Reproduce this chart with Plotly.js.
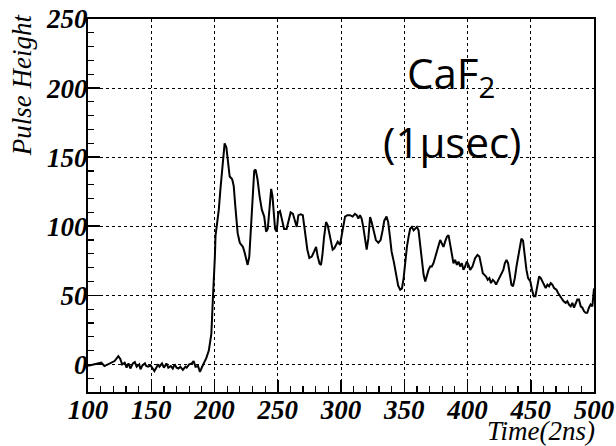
<!DOCTYPE html>
<html>
<head>
<meta charset="utf-8">
<script src="https://cdn.plot.ly/plotly-3.0.1.min.js"></script>
<style>html,body{margin:0;padding:0;background:#fff;}</style>
</head>
<body>
<div id="chart" style="width:616px;height:446px;"></div>
<script>
// Time (2ns units)
var time = [
100,103,105.5,108,110.5,113,116,118.5,121,124,125.5,127,129,130.5,132,133.5,135.5,137,138.5,140.5,
141.5,143,145,146,147.5,149.5,151,152.5,154,155.5,156.5,158.5,160,162,163.5,165.5,167,168.5,170,171.5,
173,175,177,178,180,182,183.5,185,187,188.5,190.5,192,193.5,195.5,197.5,
198.7,199.5,200.3,200.8,202,203.4,204.7,206,207.3,208,209.4,210.7,212,214,215.2,216.5,218.3,220,222.5,223.8,
225.1,226.2,227.5,228.8,230.1,231.4,232.5,234,235.6,237.4,239.3,240.8,242.1,243.5,244.8,245.8,246.9,247.9,249.2,250.5,
251.8,253.1,255,257,258.6,260.2,262,263.7,265,266.3,268.2,269.8,271.1,272.4,273.4,275,276.9,278.7,280.3,281.6,
283,284.2,285.3,286.6,288.2,289.5,290.8,292.1,293.4,294.7,296,297.4,299.2,300.5,301.8,303.2,305,307.1,309.2,311,
312.4,313.7,315,316.3,317.6,319,320.3,321.6,323,324.2,326,327.6,329.5,331.3,332.9,334.2,336,337.3,338.7,340,
341.8,343.4,345.2,346.8,348.2,349.5,350.8,352.1,353.4,354.7,356,357.4,358.7,360,361.3,362.6,363.9,365.3,366.6,367.9,
369.2,370.5,371.8,373.1,374.5,375.8,377.1,378.4,379.7,381,382.3,383.7,385,386.3,387.6,388.9,390.2,391.6,392.9,394.2,
395.5,396.8,398.1,399.4,400.8,402.1,403.9,406,407.9,409.4,410.8,412.1,413.4,414.7,416,417.3,418.6,420,421.3,422.6,
424.4,425.7,427,428.3,429.5,430.8,432.1,433.4,434.7,436,437.4,438.7,440,441.3,442.6,443.9,445.3,446.6,447.9,449.7,
451,452.4,453.7,455,456.6,457.9,459.2,460.5,461.8,463.2,464.5,465.8,467.1,468.4,470.3,471.6,472.9,474.2,476,477.6,
478.9,480.2,481.6,482.9,484.2,485.5,486.8,488.1,489.5,490.8,492.1,493.4,494.7,496,497.3,498.7,499.7,500
];
// Pulse height values
var pulse = [
-1,-0.5,0,0.7,1.2,-1.2,0,1.2,2.4,6,4,0,1.2,-2.4,0.7,-3,0.7,1.7,-1.7,0,
-3.6,-0.7,0.7,-1.2,-1.7,-0.7,-3,-4.8,-2.4,0,-1.7,0.7,-2.4,0.7,-2.4,-1.2,-3,0,-2.4,-3,
-1.7,-4,-1.7,-2.4,0,0.7,2.4,-1.7,-1.2,-5.5,-1.2,1.2,4.5,10,22,
47,59,78,93,102,112,127,141,155,160,157,146,136,134,129,114,95,88,85,81,
75,72,78,98,122,140,141,134,122,112,107,96,98,114,127,122,107,98,96,110,
111,105,98,98,105,110,109,103,99.5,108,108.6,108,99.5,90,83,77,78,81.6,85,78,
73,72,79,92,103,100.7,94.7,87.6,83,84,86.4,88.8,86.4,92.3,100.7,107,108,108,107,109,
108,105.5,108,105.5,99.5,90,83,91,106.7,103,94.7,90,88,90,97,104,107,103,92.3,81.6,
74,66,57,54,55,62.4,75.6,85,92.3,98.3,99.5,97,98.3,99.5,97,87.6,75.6,64.8,60,64.8,
68.4,70.8,70.8,73.2,78,82.8,86.4,90,87.6,85,88.8,92.3,93.5,87.6,80.4,73.2,75.6,72,74.4,70.8,
73.2,68.4,70.8,74.4,72,68.4,70.8,76.8,79.2,78,72,66,64.8,63.6,61.2,62.4,58.8,61.2,60,57.7,
61.2,63.6,66,68.4,73.2,75.6,73.2,66,57.7,56.5,62.4,70.8,78,86.4,91,89.5,78,68.4,62.4,60,
54,49.3,49.3,56.5,63.6,62.4,60,56.5,55.3,57.7,56.5,58.8,57.7,55.3,54,51.7,49.3,48,45.7,44.5,
45.7,43.3,42,44.5,41,44.5,46.9,46.9,42,41,38.5,37.3,37.3,41,43.3,42,52.9,55
];
var xTickVals = [100,150,200,250,300,350,400,450,500];
var yTickVals = [0,50,100,150,200,250];
var xTickText = xTickVals.map(function(v){return '<b><i>' + v + '</i></b>';});
var yTickText = yTickVals.map(function(v){return '<b><i>' + v + '</i></b>';});

var tickFont = {family:'Liberation Serif, Times New Roman, serif', size:27, color:'#000'};
var titleFont = {family:'Liberation Serif, Times New Roman, serif', size:27, style:'italic', color:'#000'};
var boxFont = {family:'Open Sans, Noto Sans, sans-serif', size:42, color:'#000'};

var trace = {
  x: time, y: pulse, type:'scatter', mode:'lines',
  line:{color:'#000', width:2}, hoverinfo:'none'
};

var axisCommon = {
  ticks:'inside', ticklen:12, tickwidth:1.5, tickcolor:'#000',
  showline:true, linewidth:2, linecolor:'#000', mirror:true,
  showgrid:true, gridcolor:'#000', gridwidth:1, griddash:'dot',
  zeroline:false, tickfont:tickFont, fixedrange:true,
  minor:{dtick:10, ticks:'inside', ticklen:6, tickwidth:1.2, tickcolor:'#000', showgrid:false}
};

var layout = {
  width:616, height:446,
  margin:{l:88, r:22, t:19, b:54},
  paper_bgcolor:'#fff', plot_bgcolor:'#fff',
  showlegend:false,
  xaxis: Object.assign({}, axisCommon, {range:[100,500], tickvals:xTickVals, ticktext:xTickText, ticklabelstandoff:-7}),
  yaxis: Object.assign({}, axisCommon, {range:[-20,250], tickvals:yTickVals, ticktext:yTickText, ticklabelstandoff:-7}),
  annotations:[
    {text:'<i>Pulse Height</i>', xref:'paper', yref:'paper', x:-0.13, y:0.823, textangle:-90,
     showarrow:false, font:titleFont, xanchor:'center', yanchor:'middle'},
    {text:'<i>Time(2ns)</i>', xref:'paper', yref:'paper', x:1.006, y:-0.104,
     showarrow:false, font:titleFont, xanchor:'right', yanchor:'middle'},
    {text:'CaF<sub>2</sub>', xref:'x', yref:'y', x:387, y:209,
     showarrow:false, font:boxFont, xanchor:'center', yanchor:'middle'},
    {text:'(1\u03bcsec)', xref:'x', yref:'y', x:387.5, y:161,
     showarrow:false, font:boxFont, xanchor:'center', yanchor:'middle'}
  ]
};

Plotly.newPlot('chart', [trace], layout, {displayModeBar:false, staticPlot:true});
</script>
</body>
</html>
